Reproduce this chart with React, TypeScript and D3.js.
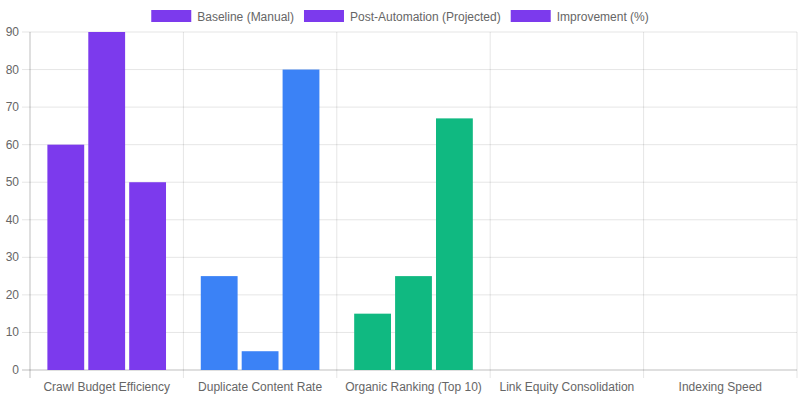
import React from "react";
import * as d3 from "d3";

const categories = [
  "Crawl Budget Efficiency",
  "Duplicate Content Rate",
  "Organic Ranking (Top 10)",
  "Link Equity Consolidation",
  "Indexing Speed",
];
const seriesNames = ["Baseline (Manual)", "Post-Automation (Projected)", "Improvement (%)"];
const baseline = [60, 25, 15, null, null];
const postAutomation = [90, 5, 25, null, null];
const improvement = [50, 80, 67, null, null];
const categoryColors = ["#7c3aed", "#3b82f6", "#10b981", "#f59e0b", "#ef4444"];
const yTicks = [0, 10, 20, 30, 40, 50, 60, 70, 80, 90];

const W = 800;
const H = 400;
const left = 30;
const right = 797;
const top = 32;
const bottom = 370;
const font = "'Liberation Sans', Helvetica, Arial, sans-serif";

export default function App() {
  const series = [baseline, postAutomation, improvement];
  const x = d3.scaleBand<string>().domain(categories).range([left, right]).paddingInner(0).paddingOuter(0);
  const inner = d3
    .scaleBand<number>()
    .domain([0, 1, 2])
    .range([x.bandwidth() * 0.1, x.bandwidth() * 0.9])
    .paddingInner(0.1)
    .paddingOuter(0.05);
  const y = d3.scaleLinear().domain([0, 90]).range([bottom, top]);

  // legend layout
  const ctx = typeof document !== "undefined" ? document.createElement("canvas").getContext("2d") : null;
  if (ctx) ctx.font = `12px ${font}`;
  const textW = (s: string) => (ctx ? ctx.measureText(s).width : s.length * 6.5);
  const items = seriesNames.map((n) => 40 + 6 + textW(n));
  const gap = 10;
  const totalW = items.reduce((a, b) => a + b, 0) + gap * (items.length - 1);
  let lx = W / 2 - totalW / 2;
  const legendPos = items.map((w) => {
    const p = lx;
    lx += w + gap;
    return p;
  });

  return (
    <svg width={W} height={H} style={{ display: "block", position: "absolute", left: 0, top: 0 }} fontFamily={font}>
      <rect width={W} height={H} fill="#fff" />
      {/* legend */}
      {seriesNames.map((n, i) => (
        <g key={n} transform={`translate(${legendPos[i]},10)`}>
          <rect width={40} height={12} fill={categoryColors[0]} />
          <text x={46} y={10.5} fontSize={12} fill="#666">
            {n}
          </text>
        </g>
      ))}
      {/* horizontal grid */}
      {yTicks.map((t) => (
        <g key={t}>
          <line
            x1={left - 8}
            x2={right}
            y1={y(t)}
            y2={y(t)}
            stroke={t === 0 ? "rgba(0,0,0,0.25)" : "rgba(0,0,0,0.1)"}
          />
          <text x={left - 11} y={y(t) + 4} fontSize={12} fill="#666" textAnchor="end">
            {t}
          </text>
        </g>
      ))}
      {/* vertical grid */}
      {categories.map((c, i) => (
        <line
          key={c}
          x1={x(c)!}
          x2={x(c)!}
          y1={top}
          y2={bottom + 8}
          stroke={i === 0 ? "rgba(0,0,0,0.25)" : "rgba(0,0,0,0.1)"}
        />
      ))}
      <line x1={right} x2={right} y1={top} y2={bottom + 8} stroke="rgba(0,0,0,0.1)" />
      {/* bars */}
      {categories.map((c, ci) =>
        series.map((s, si) => {
          const v = s[ci];
          if (v == null) return null;
          return (
            <rect
              key={`${c}-${si}`}
              x={x(c)! + inner(si)!}
              y={y(v)}
              width={inner.bandwidth()}
              height={y(0) - y(v)}
              fill={categoryColors[ci]}
            />
          );
        })
      )}
      {/* x labels */}
      {categories.map((c) => (
        <text key={c} x={x(c)! + x.bandwidth() / 2} y={391} fontSize={12} fill="#666" textAnchor="middle">
          {c}
        </text>
      ))}
    </svg>
  );
}
